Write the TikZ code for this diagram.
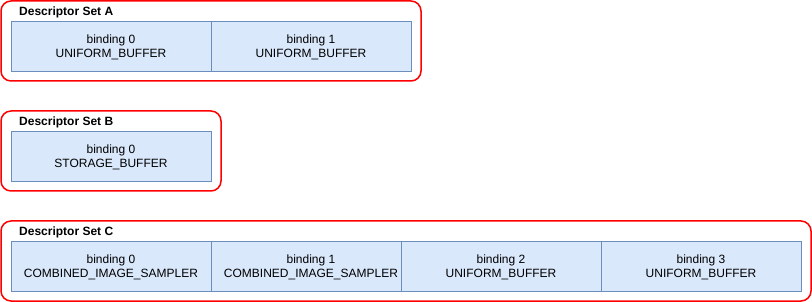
\documentclass[tikz,border=0pt]{standalone}
\usepackage{fontspec}
\setmainfont{Liberation Sans}
\definecolor{cellfill}{HTML}{DAE8FC}
\definecolor{celldraw}{HTML}{6C8EBF}
\definecolor{setred}{HTML}{FF0000}
\begin{document}
\begin{tikzpicture}[x=1pt,y=-1pt,
  setbox/.style={draw=setred,line width=1.5pt,rounded corners=10pt,fill=white},
  cell/.style={draw=celldraw,fill=cellfill,line width=0.8pt},
  celltext/.style={font=\fontsize{12}{14}\selectfont,align=center,inner sep=0pt},
  settitle/.style={font=\fontsize{12}{14}\selectfont\bfseries,anchor=west,inner sep=0pt}]
\useasboundingbox (0,0) rectangle (812,302);
% Set A
\draw[setbox] (1,1) rectangle (421,81);
\node[settitle] (ta) at (19,12.5) {Descriptor Set A};
\draw[cell] (11,21) rectangle (211,71);
\draw[cell] (211,21) rectangle (411,71);
\node[celltext] (a0) at (111,47.5) {binding 0\\UNIFORM\_BUFFER};
\node[celltext] (a1) at (311,47.5) {binding 1\\UNIFORM\_BUFFER};
% Set B
\draw[setbox] (1,111) rectangle (221,191);
\node[settitle] (tb) at (19,122.5) {Descriptor Set B};
\draw[cell] (11,131) rectangle (211,181);
\node[celltext] (b0) at (111,157.5) {binding 0\\STORAGE\_BUFFER};
% Set C
\draw[setbox] (1,221) rectangle (811,301);
\node[settitle] (tc) at (19,232.5) {Descriptor Set C};
\draw[cell] (11,241) rectangle (211,291);
\draw[cell] (211,241) rectangle (401,291);
\draw[cell] (401,241) rectangle (601,291);
\draw[cell] (601,241) rectangle (801,291);
\node[celltext] (c0) at (111,267.5) {binding 0\\COMBINED\_IMAGE\_SAMPLER};
\node[celltext] (c1) at (311,267.5) {binding 1\\COMBINED\_IMAGE\_SAMPLER};
\node[celltext] (c2) at (501,267.5) {binding 2\\UNIFORM\_BUFFER};
\node[celltext] (c3) at (701,267.5) {binding 3\\UNIFORM\_BUFFER};
\end{tikzpicture}
\end{document}
